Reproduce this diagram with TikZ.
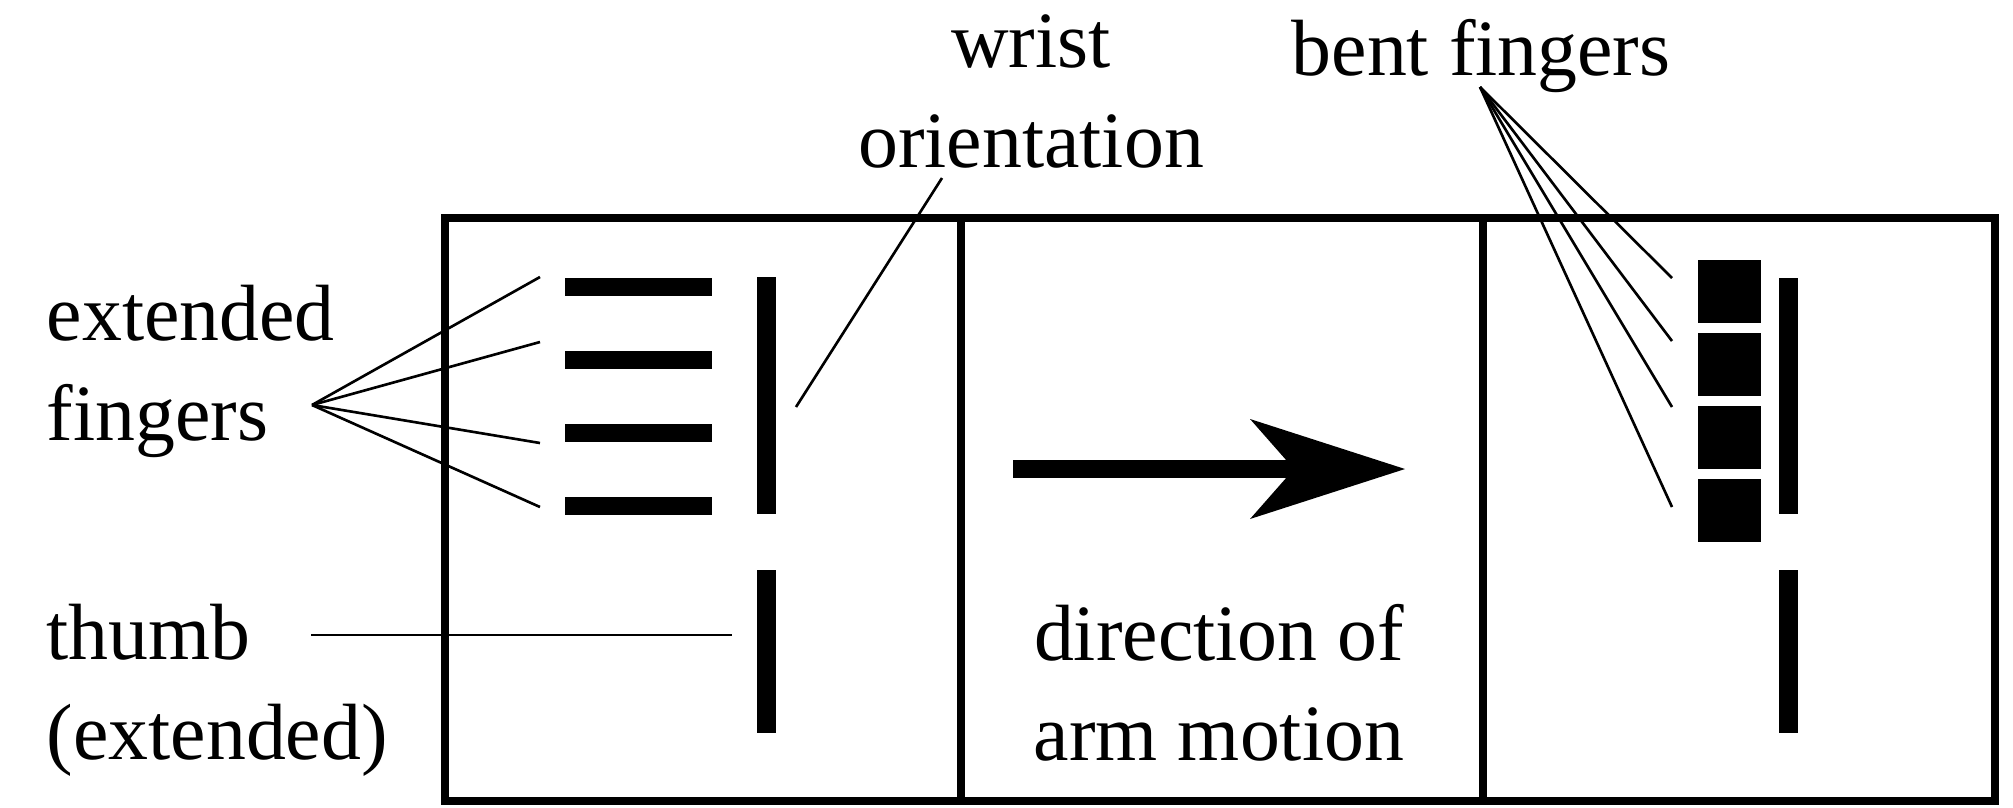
\documentclass[tikz,border=0pt]{standalone}
\usepackage{fontspec}
\setmainfont{Liberation Serif}
\usetikzlibrary{arrows.meta}
\begin{document}
\begin{tikzpicture}[x=0.1mm,y=-0.1mm,
  txt/.style={inner sep=0pt,font=\fontsize{22.7}{28.45}\selectfont},
  lead/.style={line width=0.75pt},
  frame/.style={line width=2.5pt}]
\useasboundingbox (0,0) rectangle (2013,807);
\draw[frame] (445,218) rectangle (1995,801);
\draw[frame] (961,218)--(961,801);
\draw[frame] (1483,218)--(1483,801);
\foreach \i in {0,...,3}{
\fill (565,{278+73*\i}) rectangle (712,{296+73*\i});
\fill (1698,{260+73*\i}) rectangle (1761,{323+73*\i});
}
\fill (757,277) rectangle (776,514);
\fill (757,570) rectangle (776,733);
\fill (1779,278) rectangle (1798,514);
\fill (1779,570) rectangle (1798,733);
\node[txt,anchor=base west,align=left] (ext) at (46,440) {extended\\fingers};
\node[txt,anchor=base west,align=left] (thumb) at (46,759) {thumb\\(extended)};
\node[txt,anchor=base,align=center] (wrist) at (1031,167) {wrist\\orientation};
\node[txt,anchor=base west] (bent) at (1291,75) {bent fingers};
\node[txt,anchor=base,align=center] (dir) at (1219,760) {direction of\\arm motion};
\coordinate (extfan) at (312,405);
\foreach \y [count=\n] in {277,342,443,507}{
\coordinate (xf\n) at (540,\y);
\draw[lead] (extfan) -- (xf\n);
}
\coordinate (bentfan) at (1480,87);
\foreach \y [count=\n] in {278,341,407,507}{
\coordinate (bf\n) at (1672,\y);
\draw[lead] (bentfan) -- (bf\n);
}
\coordinate (thumbfrom) at (311,635);
\coordinate (thumbto) at (732,635);
\draw[lead] (thumbfrom) -- (thumbto);
\coordinate (wristfrom) at (942,178);
\coordinate (wristto) at (796,407);
\draw[lead] (wristfrom) -- (wristto);
\coordinate (armfrom) at (1013,469);
\coordinate (armto) at (1405,469);
\draw[line width=1.8mm,-{Stealth[length=15.5mm,width=10mm,inset=4.4mm,line width=0pt]}] (armfrom) -- (armto);
\end{tikzpicture}
\end{document}
